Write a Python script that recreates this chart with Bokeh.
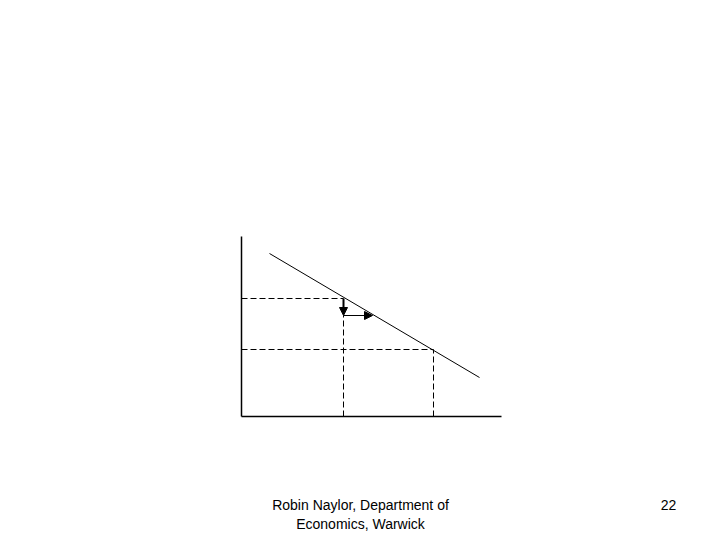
from bokeh.plotting import figure
from bokeh.models import Range1d, Arrow, NormalHead, Label
from bokeh.embed import file_html
from bokeh.resources import INLINE

# Economic diagram data (quantity, price)
axis_q_max = 26.0
axis_p_max = 18.0
demand_q = [2.8, 23.8]
demand_p = [16.3, 3.9]
q_points = [10.2, 19.2]
p_points = [11.8, 6.7]
arrow_down_end_p = 10.1
arrow_right_end_q = 13.1
footer_lines = ["Robin Naylor, Department of", "Economics, Warwick"]
page_number = "22"

p = figure(width=712, height=532, output_backend="svg", toolbar_location=None,
           x_range=Range1d(-24.1, 47.1), y_range=Range1d(-11.6, 41.6),
           x_axis_location=None, y_axis_location=None, min_border=0)
p.outline_line_color = None
p.grid.visible = False
p.background_fill_color = "white"

# axes
p.line([0, 0], [0, axis_p_max], line_color="black", line_width=1.5)
p.line([0, axis_q_max], [0, 0], line_color="black", line_width=1.5)

# demand curve
p.line(demand_q, demand_p, line_color="black", line_width=1)

# dashed guides
for q, pr in zip(q_points, p_points):
    p.line([0, q], [pr, pr], line_color="black", line_width=1, line_dash="6 3")
p.line([q_points[0], q_points[0]], [0, arrow_down_end_p], line_color="black", line_width=1, line_dash="6 3")
p.line([q_points[1], q_points[1]], [0, p_points[1]], line_color="black", line_width=1, line_dash="6 3")

# arrows
p.add_layout(Arrow(end=NormalHead(size=8, fill_color="black", line_color="black"),
                   x_start=q_points[0], y_start=p_points[0],
                   x_end=q_points[0], y_end=arrow_down_end_p,
                   line_color="black", line_width=2))
p.add_layout(Arrow(end=NormalHead(size=8, fill_color="black", line_color="black"),
                   x_start=q_points[0], y_start=arrow_down_end_p,
                   x_end=arrow_right_end_q, y_end=arrow_down_end_p,
                   line_color="black", line_width=1))

# footer text
for i, t in enumerate(footer_lines):
    p.add_layout(Label(x=11.9, y=-8.8 - 1.9 * i, text=t, text_align="center",
                       text_baseline="middle", text_font="Liberation Sans",
                       text_font_size="14px", text_color="black"))
p.add_layout(Label(x=42.7, y=-8.8, text=page_number, text_align="center",
                   text_baseline="middle", text_font="Liberation Sans",
                   text_font_size="14px", text_color="black"))

open("out.html", "w").write(file_html(p, INLINE))
